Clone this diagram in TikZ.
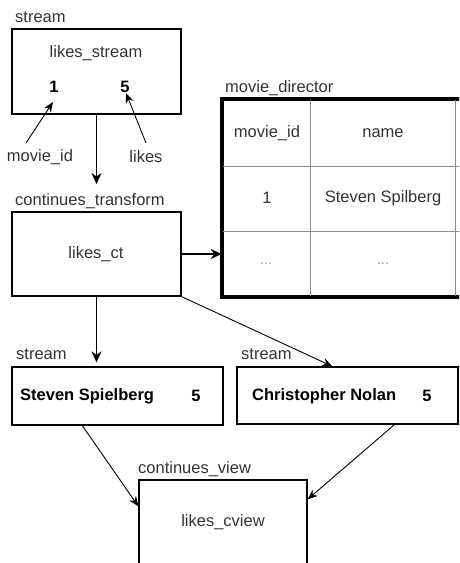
\documentclass[tikz,border=0pt]{standalone}
\usepackage{fontspec}
\setmainfont{Liberation Sans}
\usetikzlibrary{arrows.meta,calc}
\definecolor{txt}{HTML}{333333}
\definecolor{grid}{HTML}{8C8C8C}
\definecolor{dots}{HTML}{A0A0A0}
\tikzset{
  box/.style={draw=black, line width=1.3pt, rectangle, inner sep=0pt},
  lbl/.style={text=txt, font=\fontsize{16.5}{19}\selectfont, inner sep=0pt},
  bld/.style={text=black, font=\fontsize{16.5}{19}\selectfont\bfseries, inner sep=0pt},
  arr/.style={draw=black, line width=0.9pt, -{Stealth[length=10pt,width=8pt]}},
  varr/.style={draw=black, line width=1.3pt, -{Stealth[length=11pt,width=10pt]}},
}
\begin{document}
\begin{tikzpicture}[x=1pt,y=-1pt]
\useasboundingbox (0,0) rectangle (459,563);
\clip (0,0) rectangle (459,563);
% boxes
\node[box, minimum width=169pt, minimum height=85pt] (b1) at (96.5,71.5) {};
\node[box, minimum width=169pt, minimum height=84pt] (b2) at (96.5,254) {};
\node[box, minimum width=211pt, minimum height=58pt] (b3) at (117.5,396) {};
\node[box, minimum width=221pt, minimum height=57pt] (b4) at (347.5,395.5) {};
\node[box, minimum width=168pt, minimum height=120pt] (b5) at (223,540) {};
\node[draw=black, line width=2.6pt, rectangle, inner sep=0pt, minimum width=277pt, minimum height=196pt] (tbl) at (361.5,198) {};
% table grid
\draw[grid, line width=1pt] (310,100) -- (310,296) (455,100) -- (455,296)
  (223,166) -- (500,166) (223,231) -- (500,231);
\draw[black, line width=2.6pt] (tbl.north west) rectangle (tbl.south east);
% titles
\node[lbl, anchor=base west] (t1) at (15,22) {stream};
\node[lbl, anchor=base west] (t2) at (225,92) {movie\_director};
\node[lbl, anchor=base west] (t3) at (15,205) {continues\_transform};
\node[lbl, anchor=base west] (t4) at (16,359) {stream};
\node[lbl, anchor=base west] (t5) at (241,359) {stream};
\node[lbl, anchor=base west] (t6) at (138,473) {continues\_view};
% box texts
\node[lbl] (s1) at (96,53) {likes\_stream};
\node[bld] (one) at (54,87) {1};
\node[bld] (five) at (125,87) {5};
\node[lbl] (mid) at (40,157) {movie\_id};
\node[lbl] (lk) at (146,157) {likes};
\node[lbl] (ct) at (96,254) {likes\_ct};
\node[bld, anchor=west] (ss) at (20,396) {Steven Spielberg};
\node[bld] (f3) at (196,396) {5};
\node[bld, anchor=west] (cn) at (252,396) {Christopher Nolan};
\node[bld] (f4) at (427,396) {5};
\node[lbl] (cv) at (223,522) {likes\_cview};
% table texts
\node[lbl] (h1) at (267,133) {movie\_id};
\node[lbl] (h2) at (383,133) {name};
\node[lbl] (c1) at (267,198) {1};
\node[lbl] (c2) at (383,198) {Steven Spilberg};
\node[lbl, text=dots, font=\fontsize{15}{17}\selectfont] (d1) at (266,264) {...};
\node[lbl, text=dots, font=\fontsize{15}{17}\selectfont] (d2) at (383,264) {...};
% connectors
\coordinate (midtail) at (26,143);
\coordinate (lktail) at (146,143);
\coordinate (ctend) at (96.5,184);
\draw[arr] (midtail) -- (53,102);
\draw[arr] (lktail) -- (126,93);
\draw[varr] (b1.south) -- (ctend);
\draw[varr] (b2.east) -- (b2.east -| tbl.west);
\draw[varr] (b2.south) -- ($(b2.south |- b3.north)+(0,-4)$);
\draw[arr] (b2.south east) -- ($(b4.north west)+(96,0)$);
\draw[arr] ($(b3.south west)+(71,0)$) -- ($(b5.north west)+(0,27)$);
\draw[arr] ($(b4.south west)+(158,0)$) -- ($(b5.north east)+(0,20)$);
\end{tikzpicture}
\end{document}
